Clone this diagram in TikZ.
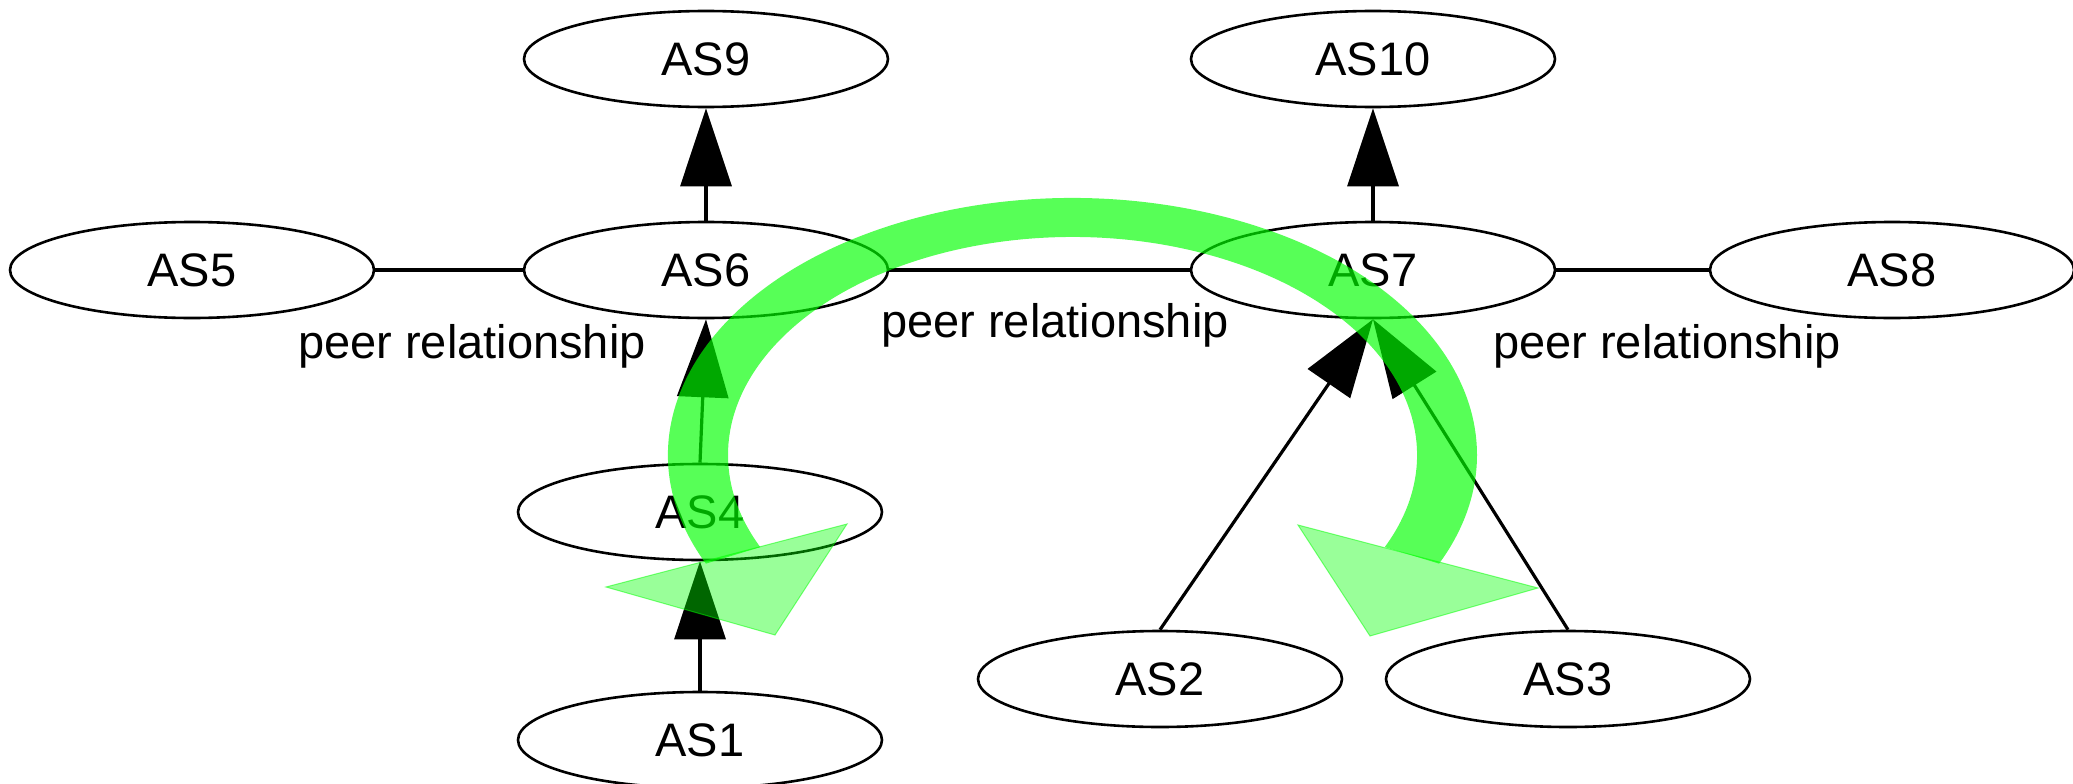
\documentclass[tikz,border=0pt]{standalone}
\usepackage{fontspec}
\setmainfont{Liberation Sans}
\usetikzlibrary{arrows.meta,calc,shapes.geometric}

\begin{document}
\begin{tikzpicture}[x=1pt,y=1pt,
  asnode/.style={ellipse, draw, line width=2.6pt, minimum width=364pt,
    minimum height=96pt, inner sep=0pt, font=\fontsize{47}{56}\selectfont},
  peer/.style={line width=4.8pt},
  custprov/.style={line width=3.2pt, -{Triangle[length=78pt,width=51pt]}},
  lbl/.style={anchor=base, inner sep=0pt, font=\fontsize{47}{56}\selectfont},
  pathband/.style={fill=green, fill opacity=0.66},
  pathhead/.style={fill=green, fill opacity=0.4, draw=green, draw opacity=0.5, line width=1pt}]

\useasboundingbox (0,-784) rectangle (2073,0);

% autonomous systems
\node[asnode] (as9)  at (706,-59)   {AS9};
\node[asnode] (as10) at (1373,-59)  {AS10};
\node[asnode] (as5)  at (192,-270)  {AS5};
\node[asnode] (as6)  at (706,-270)  {AS6};
\node[asnode] (as7)  at (1373,-270) {AS7};
\node[asnode] (as8)  at (1892,-270) {AS8};
\node[asnode] (as4)  at (700,-512)  {AS4};
\node[asnode] (as1)  at (700,-740)  {AS1};
\node[asnode] (as2)  at (1160,-679) {AS2};
\node[asnode] (as3)  at (1568,-679) {AS3};

% peer links
\draw[peer] (as5.east) -- (as6.west);
\draw[peer] (as6.east) -- (as7.west);
\draw[peer] (as7.east) -- (as8.west);

\node[lbl] (peerA) at (472,-358)  {peer relationship};
\node[lbl] (peerB) at (1055,-337) {peer relationship};
\node[lbl] (peerC) at (1667,-358) {peer relationship};

% customer -> provider links
\draw[custprov] (as6.north) -- (as9.south);
\draw[custprov] (as7.north) -- (as10.south);
\draw[custprov] (as4.north) -- (as6.south);
\draw[custprov] (as1.north) -- (as4.south);
\draw[custprov] (as2.north) -- (as7.south);
\draw[custprov] (as3.north) -- (as7.south);

% valley-free path highlight
\coordinate (arcc) at (1072.5,-455);
\fill[pathband] ($(arcc)+(205:404.5 and 257)$)
  arc[start angle=205, end angle=-25, x radius=404.5, y radius=257]
  -- ($(arcc)+(-25:344.5 and 218)$)
  arc[start angle=-25, end angle=205, x radius=344.5, y radius=218]
  -- cycle;
\filldraw[pathhead] (847,-524) -- (606,-587) -- (775,-635) -- cycle;
\filldraw[pathhead] (1298,-525) -- (1538,-588) -- (1370,-636) -- cycle;
\end{tikzpicture}
\end{document}
